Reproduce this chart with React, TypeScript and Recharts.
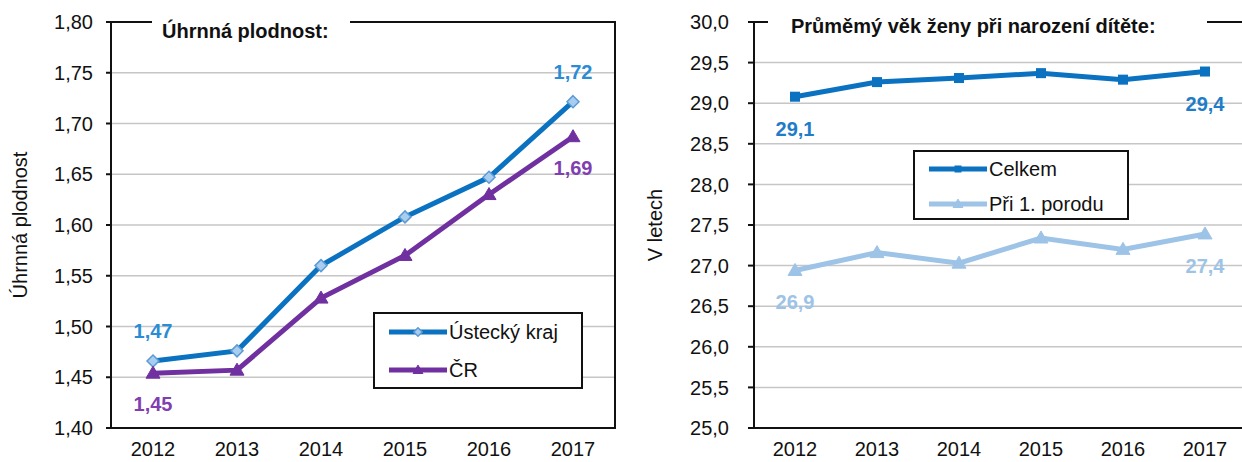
import React from "react";
import {
  CartesianGrid,
  LabelList,
  Line,
  LineChart,
  ReferenceArea,
  XAxis,
  YAxis,
} from "recharts";

const years = [2012, 2013, 2014, 2015, 2016, 2017];
const ustecky = [1.466, 1.476, 1.56, 1.608, 1.647, 1.7215];
const cr = [1.454, 1.457, 1.528, 1.57, 1.63, 1.687];
const celkem = [29.08, 29.26, 29.31, 29.37, 29.29, 29.39];
const prvni = [26.94, 27.16, 27.03, 27.34, 27.2, 27.39];

const fertTicks = [1.4, 1.45, 1.5, 1.55, 1.6, 1.65, 1.7, 1.75, 1.8];
const ageTicks = [25, 25.5, 26, 26.5, 27, 27.5, 28, 28.5, 29, 29.5, 30];
const yearBounds = [2011.5, 2012.5, 2013.5, 2014.5, 2015.5, 2016.5, 2017.5];
// only first and last point get a value label
const labelled = [0, 5];

const FONT = '"Liberation Sans", Arial, sans-serif';

const rows = years.map((year, i) => ({
  year,
  ustecky: ustecky[i],
  cr: cr[i],
  celkem: celkem[i],
  prvni: prvni[i],
  ustLbl: labelled.includes(i) ? ustecky[i] : null,
  crLbl: labelled.includes(i) ? cr[i] : null,
  celkemLbl: labelled.includes(i) ? celkem[i] : null,
  prvniLbl: labelled.includes(i) ? prvni[i] : null,
}));

const comma = (v: number, d: number) => v.toFixed(d).replace(".", ",");

type Marker = "diamond" | "triangle" | "square";

function markerShape(kind: Marker, cx: number, cy: number, fill: string, stroke: string, s = 1) {
  if (kind === "diamond")
    return (
      <polygon
        points={`${cx},${cy - 6 * s} ${cx + 6 * s},${cy} ${cx},${cy + 6 * s} ${cx - 6 * s},${cy}`}
        fill={fill}
        stroke={stroke}
        strokeWidth={1.5}
      />
    );
  if (kind === "triangle")
    return (
      <polygon
        points={`${cx},${cy - 7 * s} ${cx + 7 * s},${cy + 5 * s} ${cx - 7 * s},${cy + 5 * s}`}
        fill={fill}
        stroke={fill}
      />
    );
  return <rect x={cx - 5 * s} y={cy - 5 * s} width={10 * s} height={10 * s} fill={fill} />;
}

const dot = (kind: Marker, fill: string, stroke: string) => (p: any) =>
  p.cx == null ? <g key={p.key} /> : <g key={p.key}>{markerShape(kind, p.cx, p.cy, fill, stroke)}</g>;

const valueLabel = (color: string, dy: number, digits: number) => (p: any) => {
  if (p.value == null) return null;
  const x = p.x ?? p.viewBox?.x;
  const y = p.y ?? p.viewBox?.y;
  return (
    <text
      x={x}
      y={y + dy}
      textAnchor="middle"
      dominantBaseline="central"
      fontSize={20}
      fontWeight="bold"
      fill={color}
    >
      {comma(p.value, digits)}
    </text>
  );
};

type LegendItem = { name: string; color: string; marker: Marker; fill: string; stroke: string };

function LegendBox(props: {
  left: number;
  top: number;
  width: number;
  height: number;
  rowTops: number[];
  items: LegendItem[];
}) {
  return (
    <div
      style={{
        position: "absolute",
        left: props.left,
        top: props.top,
        width: props.width,
        height: props.height,
        border: "2px solid #111",
        background: "#fff",
        boxSizing: "border-box",
      }}
    >
      {props.items.map((it, i) => (
        <div
          key={it.name}
          style={{
            position: "absolute",
            left: 14,
            top: props.rowTops[i],
            height: 24,
            display: "flex",
            alignItems: "center",
            fontSize: 20,
            color: "#111",
          }}
        >
          <svg width={60} height={24}>
            <line x1={0} y1={12} x2={58} y2={12} stroke={it.color} strokeWidth={5} />
            {markerShape(it.marker, 29, 12, it.fill, it.stroke, 0.7)}
          </svg>
          <span>{it.name}</span>
        </div>
      ))}
    </div>
  );
}

const titleStyle: React.CSSProperties = {
  position: "absolute",
  background: "#fff",
  fontWeight: "bold",
  fontSize: 20,
  lineHeight: "24px",
  color: "#111",
  whiteSpace: "nowrap",
};

// year labels sit on one axis, the boundary tick marks on a second one
function yearAxes() {
  return [
    <XAxis
      key="lbl"
      xAxisId="lbl"
      type="number"
      dataKey="year"
      domain={[2011.5, 2017.5]}
      ticks={years}
      interval={0}
      height={1}
      tickLine={false}
      axisLine={false}
      tickSize={6}
      tickMargin={8}
      tick={{ fontSize: 20, fill: "#111" }}
    />,
    <XAxis
      key="tk"
      xAxisId="tk"
      type="number"
      domain={[2011.5, 2017.5]}
      ticks={yearBounds}
      interval={0}
      height={1}
      tickFormatter={() => ""}
      tickSize={6}
      axisLine={false}
      tickLine={{ stroke: "#111", strokeWidth: 2 }}
    />,
  ];
}

function FertilityChart() {
  return (
    <div style={{ position: "absolute", left: 0, top: 0, width: 640, height: 462 }}>
      <LineChart width={640} height={462} data={rows} margin={{ top: 22, right: 25, bottom: 32, left: 0 }}>
        <CartesianGrid xAxisId="lbl" horizontal vertical={false} stroke="#c6c6c6" strokeWidth={1.5} />
        <YAxis
          type="number"
          domain={[1.4, 1.8]}
          ticks={fertTicks}
          interval={0}
          width={111}
          tickFormatter={(v) => comma(v, 2)}
          tick={{ fontSize: 20, fill: "#111" }}
          tickSize={5}
          tickMargin={13}
          axisLine={{ stroke: "#111", strokeWidth: 2 }}
          tickLine={{ stroke: "#111", strokeWidth: 2 }}
          label={{
            value: "Úhrnná plodnost",
            angle: -90,
            position: "center",
            dx: -36,
            style: { fontSize: 20, fill: "#111" },
          }}
        />
        {yearAxes()}
        <ReferenceArea
          xAxisId="lbl"
          x1={2011.5}
          x2={2017.5}
          y1={1.4}
          y2={1.8}
          fill="none"
          stroke="#111"
          strokeWidth={2}
          fillOpacity={0}
        />
        <Line
          xAxisId="lbl"
          dataKey="ustecky"
          stroke="#0a72c0"
          strokeWidth={5}
          dot={dot("diamond", "#a9cdee", "#5b9bd5")}
          isAnimationActive={false}
        >
          <LabelList dataKey="ustLbl" content={valueLabel("#2b8cd6", -30, 2)} />
        </Line>
        <Line
          xAxisId="lbl"
          dataKey="cr"
          stroke="#7030a0"
          strokeWidth={5}
          dot={dot("triangle", "#7030a0", "#7030a0")}
          isAnimationActive={false}
        >
          <LabelList dataKey="crLbl" content={valueLabel("#7f3fb0", 31, 2)} />
        </Line>
      </LineChart>
      <div style={{ ...titleStyle, left: 152, top: 19, width: 198, paddingLeft: 10, boxSizing: "border-box" }}>
        Úhrnná plodnost:
      </div>
      <LegendBox
        left={373}
        top={312}
        width={210}
        height={77}
        rowTops={[6, 44]}
        items={[
          { name: "Ústecký kraj", color: "#0a72c0", marker: "diamond", fill: "#a9cdee", stroke: "#5b9bd5" },
          { name: "ČR", color: "#7030a0", marker: "triangle", fill: "#7030a0", stroke: "#7030a0" },
        ]}
      />
    </div>
  );
}

function AgeChart() {
  return (
    <div style={{ position: "absolute", left: 620, top: 0, width: 636, height: 462 }}>
      <LineChart width={636} height={462} data={rows} margin={{ top: 22, right: 10, bottom: 32, left: 0 }}>
        <CartesianGrid xAxisId="lbl" horizontal vertical={false} stroke="#c6c6c6" strokeWidth={1.5} />
        <YAxis
          type="number"
          domain={[25, 30]}
          ticks={ageTicks}
          interval={0}
          width={134}
          tickFormatter={(v) => comma(v, 1)}
          tick={{ fontSize: 20, fill: "#111" }}
          tickSize={6}
          tickMargin={19}
          axisLine={{ stroke: "#111", strokeWidth: 2 }}
          tickLine={{ stroke: "#111", strokeWidth: 2 }}
          label={{
            value: "V letech",
            angle: -90,
            position: "center",
            dx: -32,
            style: { fontSize: 20, fill: "#111" },
          }}
        />
        {yearAxes()}
        <ReferenceArea
          xAxisId="lbl"
          x1={2011.5}
          x2={2017.5}
          y1={25}
          y2={30}
          fill="none"
          stroke="#111"
          strokeWidth={2}
          fillOpacity={0}
        />
        <Line
          xAxisId="lbl"
          dataKey="celkem"
          stroke="#0a72c0"
          strokeWidth={5}
          dot={dot("square", "#0a72c0", "#0a72c0")}
          isAnimationActive={false}
        >
          <LabelList dataKey="celkemLbl" content={valueLabel("#1e7cc8", 32, 1)} />
        </Line>
        <Line
          xAxisId="lbl"
          dataKey="prvni"
          stroke="#9dc3e6"
          strokeWidth={5}
          dot={dot("triangle", "#9dc3e6", "#9dc3e6")}
          isAnimationActive={false}
        >
          <LabelList dataKey="prvniLbl" content={valueLabel("#9dc3e6", 32, 1)} />
        </Line>
      </LineChart>
      <div style={{ ...titleStyle, left: 148, top: 14, width: 439, paddingLeft: 23, boxSizing: "border-box" }}>
        Průměmý věk ženy při narození dítěte:
      </div>
      <LegendBox
        left={293}
        top={150}
        width={216}
        height={70}
        rowTops={[5, 40]}
        items={[
          { name: "Celkem", color: "#0a72c0", marker: "square", fill: "#0a72c0", stroke: "#0a72c0" },
          { name: "Při 1. porodu", color: "#9dc3e6", marker: "triangle", fill: "#9dc3e6", stroke: "#9dc3e6" },
        ]}
      />
    </div>
  );
}

export default function App() {
  return (
    <div
      style={{
        position: "absolute",
        left: 0,
        top: 0,
        width: 1242,
        height: 462,
        overflow: "hidden",
        background: "#fff",
        fontFamily: FONT,
      }}
    >
      <FertilityChart />
      <AgeChart />
    </div>
  );
}
